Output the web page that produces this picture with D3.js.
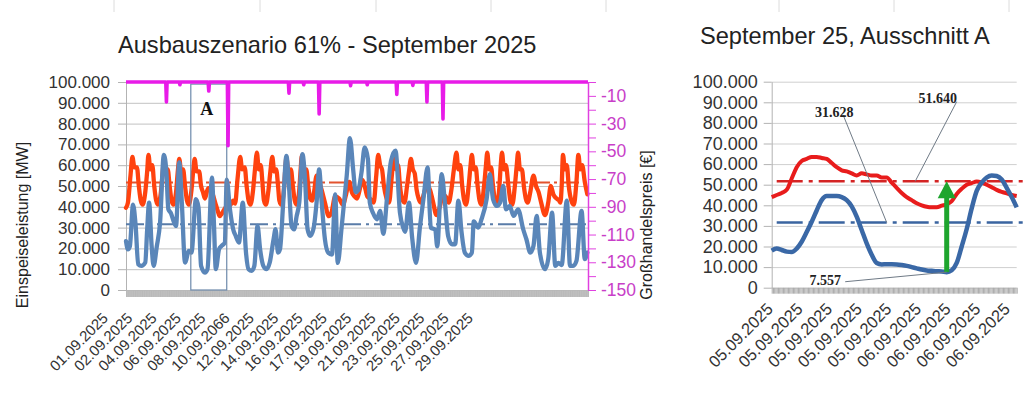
<!DOCTYPE html>
<html><head><meta charset="utf-8">
<script src="https://cdn.jsdelivr.net/npm/d3@7"></script>
<style>
body{margin:0;background:#fff}
svg{display:block}
</style>
</head><body>
<svg id="c" width="1024" height="394"></svg>
<script>
// ================= DATA =================
// Left chart: September 2025, hour of month -> value (1000 MW)
const xLabels = ["01.09.2025","02.09.2025","04.09.2025","06.09.2025","08.09.2025","10.09.2066","12.09.2025","14.09.2025","16.09.2025","17.09.2025","19.09.2025","21.09.2025","23.09.2025","25.09.2025","27.09.2025","29.09.2025"];
const yTicks = [0,10000,20000,30000,40000,50000,60000,70000,80000,90000,100000];
const priceTicks = [-150,-140,-130,-120,-110,-100,-90,-80,-70,-60,-50,-40,-30,-20,-10,0];
const priceLabelled = [-150,-130,-110,-90,-70,-50,-30,-10];

const loadPoints = [
[0,39.5],[3,42],[7,55],[10,64],[13,59],[17,59],[20,50],[23,43],
[26,41],[30,47],[33,57],[35,65],[38,58],[41,60],[44,50],[47,43],
[50,41],[54,46],[57,56],[59,62],[62,57],[65,58],[68,50],[71,43],
[74,41],[78,47],[81,58],[83,63],[86,57],[89,58],[92,50],[95,43],
[98,41],[102,48],[105,58],[107,63],[110,57],[114,57],[117,50],
[120,47],[123,44],[128,49],[134,47],[139,42],[143,38],
[146,35.5],[150,37],[156,40],[162,40.5],[167,43],
[170,41.5],[174,54],[178,64],[181,58],[185,59],[188,50],[191,43],
[194,41],[198,48],[201,58],[204,66],[207,58],[210,60],[213,50],[215,43],
[218,41],[222,48],[225,57],[228,64],[231,57],[234,58],[237,50],[239,43],
[242,41],[246,48],[248,57],[250,63.7],[253,57],[257,58],[260,50],[263,43],
[266,41],[270,48],[272,57],[274,64.5],[277,57],[281,58],[284,50],[287,44],
[290,43],[293,47],[297,55],[301,52],[305,48],[310,42],
[316,35.5],[320,37],[326,45],[332,44],
[338,41],[343,46],[348,52],[352,47],[356,45],
[360,44],[364,48],[368,53],[372,50],[376,45],[380,44],
[386,42],[390,55],[393,65],[396,60],[399,58],[402,50],[406,44],
[410,42],[414,54],[418,65],[421,58],[424,60],[427,50],[430,44],
[434,42],[438,50],[441,57],[444,63],[447,58],[450,56],[453,48],
[456,44],[460,42],[464,46],[469,50],[474,48],[478,43],
[484,36],[489,40],[494,46],[498,45],[503,42],
[507,48],[511,58],[515,66],[518,58],[521,60],[524,50],[527,43],
[530,41],[534,50],[537,60],[539,65],[542,58],[545,59],[548,50],[551,43],
[554,41],[558,50],[561,60],[563,66],[566,58],[569,59],[572,50],[575,43],
[578,41],[582,50],[584,60],[586,66],[589,58],[592,60],[596,50],[599,43],
[602,41],[606,50],[609,60],[611,66],[614,58],[617,58],[620,50],[623,44],
[626,42],[630,47],[635,55],[639,50],[643,47],[647,42],
[653,36],[658,42],[662,50],[666,46],[671,44],[675,43],
[677,42],[679,50],[681,65],[684,58],[687,60],[690,50],[694,43],
[698,41],[702,52],[705,65],[708,58],[711,60],[715,52],[719,46]
];

const renewPoints = [
[0,23.5],[3,19.5],[6,21],[11,41],[15,31],[19,12.4],[24,11.6],[30,13.2],[33,29],[36,42],[40,21],[43,11.6],
[48,21],[53,32],[59,65],[63,56.5],[66,38.8],[70,37],[75,32.4],[78,30.8],[83,61.3],[87,42],[92,13.2],
[98,18.8],[102,18],[109,43.7],[113,39.6],[117,11.6],[123,8.4],[127,10],[134,54],[137,32.4],[140,10],
[145,19.6],[149,21.2],[154,22.8],[157,53],[162,38.8],[167,29.2],[171,26],[176,22.8],[182,42],[187,18],
[191,10],[196,9.2],[200,11.6],[205,30.8],[209,19.6],[214,11.6],[219,10],[224,13.2],[230,24.4],[233,29.2],
[237,18],[240,19.6],[245,42],[250,64.5],[254,50],[258,30.8],[262,29.2],[266,35.6],[270,42],[275,65.3],
[279,53.3],[283,29.2],[287,26],[292,29.2],[297,42],[301,58],[305,42],[310,24.4],[315,18],[321,17],
[326,46],[330,13],[336,30],[344,55],[349,73],[354,58],[358,47],[362,48],[367,56.5],[372,68.5],[377,62.9],
[380,42],[385,37],[391,34],[396,38],[401,27],[407,45],[413,62],[420,67],[427,37],[432,30],[435,28],
[441,42],[446,25],[452,13],[458,30],[464,45],[470,59],[475,30],[482,29],[485,21],[492,55.7],[497,42],
[502,26],[508,22],[513,22],[518,43],[523,27.6],[528,18],[534,16.4],[539,18],[542,33],[549,30],[554,34],
[562,43.7],[567,55.7],[572,43.7],[578,40.4],[583,42],[588,50],[592,38.8],[598,40.4],[604,35.6],[611,38.8],
[619,29.2],[624,24.4],[630,18],[635,21.2],[640,35.6],[645,18],[653,10],[658,14.8],[664,37.2],[669,11.6],
[674,13],[679,12],[687,43],[692,11.6],[697,11.6],[702,14],[710,38],[715,14.8],[719,18]
];

// wholesale price (EUR), hour -> value
const pricePoints = [
[0,0],[62,0],[63,-14.4],[64,0],[83,0],[84,-2],[85,0],[128,0],[129,-6.5],[130,0],
[158,0],[159,-46],[160,0],[253,0],[254,-8],[255,0],[276,0],[277,-2],[278,0],
[300,0],[301,-23],[302,0],[349,0],[350,-2.6],[351,0],[375,0],[376,-2],[377,0],
[421,0],[422,-9],[423,0],[446,0],[447,-2.5],[448,0],[468,0],[469,-14.4],[470,0],
[493,0],[494,-26.7],[495,0],[720,0]
];

const loadMean = 51640;
const renewMean = 31628;
const windowA = [101, 157];       // hours covered by "Ausschnitt A"
const windowATop = 99000;

// Right chart: Ausschnitt A (1000 MW)
const detailLabels = ["05.09.2025","05.09.2025","05.09.2025","05.09.2025","05.09.2025","06.09.2025","06.09.2025","06.09.2025","06.09.2025"];
const detailLoad = [44.0,45.0,46.0,47.5,53.0,58.5,61.5,62.5,63.5,63.5,63.0,62.5,60.5,58.5,57.0,56.5,55.5,54.5,55.5,55.0,54.5,54.5,53.5,53.5,51.0,48.5,46.0,44.0,42.5,41.0,40.0,39.3,39.0,39.0,39.8,40.5,42.0,45.5,48.0,50.0,50.8,51.5,51.0,50.0,48.8,47.5,46.5,45.8,45.0,44.5];
const detailRenew = [18.0,19.0,18.3,17.5,17.3,19.0,22.3,27.0,32.0,37.5,42.5,44.5,44.5,44.5,44.0,42.5,39.5,34.5,28.0,21.5,16.0,12.0,11.3,11.4,11.4,11.3,11.0,10.6,10.0,9.4,8.8,8.4,8.2,8.0,7.9,7.557,8.5,12.0,20.0,28.5,38.5,47.0,51.0,53.5,54.5,54.2,52.5,48.5,44.0,39.0];
const minIndex = 35;

// faint spreadsheet column borders at the top edge
const sheetColumns = [114, 260, 376, 491, 606, 779, 894, 1009];

// ================= DRAW =================
const SANS = "'Liberation Sans', Arial, sans-serif";
const SERIF = "'Liberation Serif', 'Times New Roman', serif";
const fmt = d3.formatLocale({decimal: ",", thousands: ".", grouping: [3], currency: ["", " €"]}).format(",");
const svg = d3.select("#c");

function styleAxis(g, size, color, lineColor) {
  g.attr("font-family", SANS).attr("font-size", size);
  g.selectAll("text").attr("fill", color);
  g.selectAll("line").attr("stroke", lineColor);
  g.select(".domain").attr("stroke", lineColor);
}

svg.append("g").selectAll("line").data(sheetColumns).join("line")
  .attr("x1", d => d).attr("x2", d => d).attr("y1", 0).attr("y2", 12)
  .attr("stroke", "#dcdcdc").attr("stroke-width", 1);

// ---------- LEFT CHART ----------
const L = {left: 126, right: 588, top: 82, bottom: 290};
const x = d3.scaleLinear().domain([0, 720]).range([L.left, L.right]);
const y = d3.scaleLinear().domain([0, 100000]).range([L.bottom, L.top]);
const yP = d3.scaleLinear().domain([-150, 0]).range([L.bottom, L.top]);

svg.append("text").attr("x", 118).attr("y", 53).attr("font-family", SANS).attr("font-size", 23.6)
  .attr("fill", "#222").text("Ausbauszenario 61% - September 2025");

// grid
svg.append("g").attr("transform", `translate(${L.left},0)`)
  .call(d3.axisLeft(y).tickValues(yTicks).tickSize(-(L.right - L.left)).tickFormat(""))
  .call(g => g.select(".domain").remove())
  .call(g => g.selectAll("line").attr("stroke", "#c2c2c2"));

// bottom category band
svg.append("g").attr("transform", `translate(0,${L.bottom})`)
  .call(d3.axisBottom(x).tickValues(d3.range(0, 721, 1)).tickSize(7).tickFormat(""))
  .call(g => g.select(".domain").remove())
  .call(g => g.selectAll("line").attr("stroke", "#b9b9b9"));

// left axis
svg.append("g").attr("transform", `translate(${L.left},0)`)
  .call(d3.axisLeft(y).tickValues(yTicks).tickSizeInner(8).tickSizeOuter(0).tickPadding(8).tickFormat(v => fmt(v)))
  .call(g => styleAxis(g, 17, "#333", "#b3b3b3"));

// mean lines
svg.append("line").attr("x1", x(0)).attr("x2", x(720)).attr("y1", y(loadMean)).attr("y2", y(loadMean))
  .attr("stroke", "#e2532f").attr("stroke-width", 2).attr("stroke-dasharray", "18,4,3,4");
svg.append("line").attr("x1", x(0)).attr("x2", x(720)).attr("y1", y(renewMean)).attr("y2", y(renewMean))
  .attr("stroke", "#5a7ca8").attr("stroke-width", 2).attr("stroke-dasharray", "18,5,3,5");

const lineL = d3.line().x(d => x(d[0])).y(d => y(d[1] * 1000)).curve(d3.curveMonotoneX);
svg.append("path").datum(loadPoints).attr("d", lineL).attr("fill", "none")
  .attr("stroke", "#ff420e").attr("stroke-width", 4.3).attr("stroke-linejoin", "round").attr("stroke-linecap", "round");
svg.append("path").datum(renewPoints).attr("d", lineL).attr("fill", "none")
  .attr("stroke", "#5a86b9").attr("stroke-width", 4.3).attr("stroke-linejoin", "round").attr("stroke-linecap", "round");

// Ausschnitt A box
svg.append("rect").attr("x", x(windowA[0])).attr("y", y(windowATop))
  .attr("width", x(windowA[1]) - x(windowA[0])).attr("height", y(0) - y(windowATop))
  .attr("fill", "none").attr("stroke", "#6d89ab").attr("stroke-width", 1.2);
svg.append("text").attr("x", x((windowA[0] + windowA[1]) / 2) - 2).attr("y", y(84000))
  .attr("text-anchor", "middle").attr("font-family", SERIF).attr("font-weight", "bold")
  .attr("font-size", 18).attr("fill", "#111").text("A");

// price line
const lineP = d3.line().x(d => x(d[0])).y(d => yP(d[1]));
svg.append("path").datum(pricePoints).attr("d", lineP).attr("fill", "none")
  .attr("stroke", "#e81be8").attr("stroke-width", 3.6).attr("stroke-linejoin", "round");

// right axis (price)
svg.append("g").attr("transform", `translate(${L.right},0)`)
  .call(d3.axisRight(yP).tickValues(priceTicks).tickSizeInner(8).tickSizeOuter(0).tickPadding(5)
    .tickFormat(v => priceLabelled.includes(v) ? String(v) : ""))
  .call(g => styleAxis(g, 17.5, "#c83ec8", "#e040e0"))
  .call(g => g.select(".domain").attr("stroke-width", 1.5));

// x labels
const xl = d3.scalePoint().domain(xLabels).range([109, 474]);
svg.append("g").selectAll("text").data(xLabels).join("text")
  .attr("transform", d => `translate(${xl(d)},319) rotate(-45)`)
  .attr("text-anchor", "end").attr("font-family", SANS).attr("font-size", 15).attr("fill", "#333")
  .text(d => d);

// axis titles
svg.append("text").attr("transform", "translate(28,225) rotate(-90)").attr("text-anchor", "middle")
  .attr("font-family", SANS).attr("font-size", 16).attr("fill", "#222").text("Einspeiseleistung [MW]");
svg.append("text").attr("transform", "translate(652,225) rotate(-90)").attr("text-anchor", "middle")
  .attr("font-family", SANS).attr("font-size", 16).attr("fill", "#222").text("Großhandelspreis [€]");

// ---------- RIGHT CHART ----------
const R = {left: 771.7, right: 1016.7, top: 81.7, bottom: 287.7};
const x2 = d3.scaleLinear().domain([0, detailLoad.length - 1]).range([R.left, R.right]);
const y2 = d3.scaleLinear().domain([0, 100000]).range([R.bottom, R.top]);

svg.append("text").attr("x", 700).attr("y", 44).attr("font-family", SANS).attr("font-size", 23.6)
  .attr("fill", "#222").text("September 25, Ausschnitt A");

svg.append("g").attr("transform", `translate(${R.left},0)`)
  .call(d3.axisLeft(y2).tickValues(yTicks).tickSize(-(R.right - R.left)).tickFormat(""))
  .call(g => g.select(".domain").remove())
  .call(g => g.selectAll("line").attr("stroke", "#cfcfcf"));

svg.append("g").attr("transform", `translate(0,${R.bottom})`)
  .call(d3.axisBottom(x2).tickValues(d3.range(0, detailLoad.length - 0.99, 0.25)).tickSize(6).tickFormat(""))
  .call(g => g.select(".domain").remove())
  .call(g => g.selectAll("line").attr("stroke", "#aaaaaa"));

svg.append("g").attr("transform", `translate(${R.left},0)`)
  .call(d3.axisLeft(y2).tickValues(yTicks).tickSizeInner(8).tickSizeOuter(0).tickPadding(6).tickFormat(v => fmt(v)))
  .call(g => styleAxis(g, 18, "#333", "#b3b3b3"));

// mean lines
svg.append("line").attr("x1", x2(1)).attr("x2", 1024).attr("y1", y2(loadMean)).attr("y2", y2(loadMean))
  .attr("stroke", "#d42424").attr("stroke-width", 2.5).attr("stroke-dasharray", "26,6,4,6");
svg.append("line").attr("x1", x2(1)).attr("x2", 1024).attr("y1", y2(renewMean)).attr("y2", y2(renewMean))
  .attr("stroke", "#3a64a0").attr("stroke-width", 2.5).attr("stroke-dasharray", "26,6,4,6");

const lineR = d3.line().x((d, i) => x2(i)).y(d => y2(d * 1000)).curve(d3.curveMonotoneX);
svg.append("path").datum(detailLoad).attr("d", lineR).attr("fill", "none")
  .attr("stroke", "#e81c1c").attr("stroke-width", 4).attr("stroke-linejoin", "round");
svg.append("path").datum(detailRenew).attr("d", lineR).attr("fill", "none")
  .attr("stroke", "#3a68a6").attr("stroke-width", 4.5).attr("stroke-linejoin", "round");

// green arrow from minimum to load mean
const ax = x2(minIndex), ay0 = y2(detailRenew[minIndex] * 1000), ay1 = y2(loadMean);
svg.append("line").attr("x1", ax).attr("x2", ax).attr("y1", ay0).attr("y2", ay1 + 14)
  .attr("stroke", "#1ea52e").attr("stroke-width", 5);
svg.append("path").attr("d", `M${ax},${ay1} L${ax - 9},${ay1 + 17} L${ax + 9},${ay1 + 17} Z`).attr("fill", "#1ea52e");

// annotations (data-space anchors)
const notes = [
  {text: "51.640", tx: 33.2, ty: 89700, lx1: 37, ly1: 90300, lx2: 28.7, ly2: loadMean},
  {text: "31.628", tx: 12.5, ty: 82900, lx1: 14.3, ly1: 83800, lx2: 23, ly2: renewMean},
  {text: "7.557", tx: 10.7, ty: 1300, lx1: 14.7, ly1: 2900, lx2: minIndex, ly2: detailRenew[minIndex] * 1000}
];
svg.append("g").selectAll("line").data(notes).join("line")
  .attr("x1", d => x2(d.lx1)).attr("y1", d => y2(d.ly1)).attr("x2", d => x2(d.lx2)).attr("y2", d => y2(d.ly2))
  .attr("stroke", "#6f7a86").attr("stroke-width", 1);
svg.append("g").selectAll("text").data(notes).join("text")
  .attr("x", d => x2(d.tx)).attr("y", d => y2(d.ty)).attr("text-anchor", "middle")
  .attr("font-family", SERIF).attr("font-weight", "bold").attr("font-size", 14).attr("fill", "#222")
  .text(d => d.text);

const xl2 = d3.scalePoint().domain(d3.range(detailLabels.length)).range([774, 1011]);
svg.append("g").selectAll("text").data(detailLabels).join("text")
  .attr("transform", (d, i) => `translate(${xl2(i)},310) rotate(-45)`)
  .attr("text-anchor", "end").attr("font-family", SANS).attr("font-size", 16.5).attr("fill", "#333")
  .text(d => d);
</script>
</body></html>
